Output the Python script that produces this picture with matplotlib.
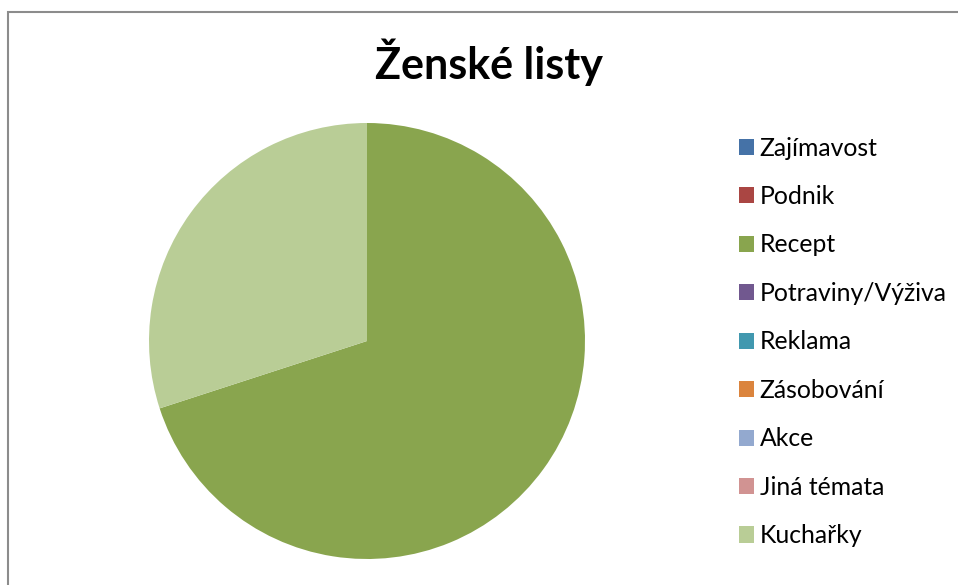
import matplotlib.pyplot as plt
from matplotlib.patches import Rectangle

# kategorie a podíly
categories = ["Zajímavost", "Podnik", "Recept", "Potraviny/Výživa", "Reklama",
              "Zásobování", "Akce", "Jiná témata", "Kuchařky"]
values = [0, 0, 70, 0, 0, 0, 0, 0, 30]
colors = ["#4572A7", "#AA4643", "#89A54E", "#71588F", "#4198AF",
          "#DB843D", "#93A9CF", "#D19392", "#B9CD96"]

plt.rcParams['font.family'] = ['Lato', 'DejaVu Sans']

fig = plt.figure(figsize=(9.58, 5.85), dpi=100)

# rámeček grafu
fig.patches.append(Rectangle((7.5 / 958, -0.1), 1.2, (585 - 11.5) / 585 + 0.1,
                             transform=fig.transFigure, fill=False,
                             edgecolor="#8c8c8c", linewidth=1.5))

ax = fig.add_axes([(367 - 218) / 958, (585 - 559) / 585, 436 / 958, 436 / 585])
wedges, _ = ax.pie(values, colors=colors, startangle=90, counterclock=False,
                   wedgeprops=dict(linewidth=0))
ax.set_xlim(-1, 1)
ax.set_ylim(-1, 1)

fig.text(489 / 958, 1 - 62 / 585, "Ženské listy", ha="center", va="center",
         fontsize=31, fontweight="bold")

fig.legend(wedges, categories, loc="upper left",
           bbox_to_anchor=(739 / 958, 1 - 136.5 / 585), frameon=False,
           fontsize=17.8, handlelength=0.62, handleheight=0.62,
           handletextpad=0.22, labelspacing=1.03, borderpad=0, borderaxespad=0)

plt.savefig("out.png", dpi=100)
